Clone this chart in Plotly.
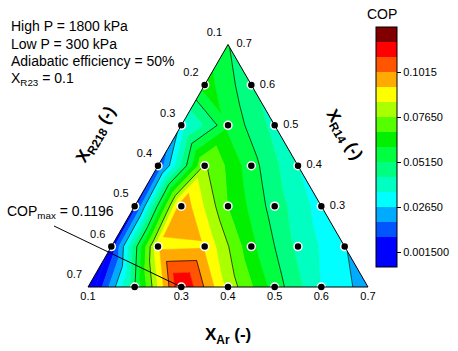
import math
import plotly.graph_objects as go

# ---------------- data (X_R23 fixed at 0.1) ----------------
x_ar = [0.1, 0.2, 0.3, 0.4, 0.5, 0.6, 0.7,
        0.1, 0.2, 0.3, 0.4, 0.5, 0.6,
        0.1, 0.2, 0.3, 0.4, 0.5,
        0.1, 0.2, 0.3, 0.4,
        0.1, 0.2, 0.3,
        0.1, 0.2,
        0.1]
x_r14 = [0.1, 0.1, 0.1, 0.1, 0.1, 0.1, 0.1,
         0.2, 0.2, 0.2, 0.2, 0.2, 0.2,
         0.3, 0.3, 0.3, 0.3, 0.3,
         0.4, 0.4, 0.4, 0.4,
         0.5, 0.5, 0.5,
         0.6, 0.6,
         0.7]
x_r218 = [0.7, 0.6, 0.5, 0.4, 0.3, 0.2, 0.1,
          0.6, 0.5, 0.4, 0.3, 0.2, 0.1,
          0.5, 0.4, 0.3, 0.2, 0.1,
          0.4, 0.3, 0.2, 0.1,
          0.3, 0.2, 0.1,
          0.2, 0.1,
          0.1]
cop = [-0.008, 0.051, 0.1196, 0.082, 0.056, 0.0346, 0.0226,
       0.004, 0.091, 0.092, 0.062, 0.041, 0.027,
       0.006, 0.100, 0.068, 0.0476, 0.031,
       0.010, 0.078, 0.055, 0.035,
       0.030, 0.058, 0.040,
       0.064, 0.045,
       0.052]

axis_ticks = [0.1, 0.2, 0.3, 0.4, 0.5, 0.6, 0.7]
minor_ticks = [0.15, 0.25, 0.35, 0.45, 0.55, 0.65]
cb_tickvals = [0.0015, 0.0265, 0.0515, 0.0765, 0.1015]
cb_ticktext = ["0.001500", "0.02650", "0.05150", "0.07650", "0.1015"]
level_step = 0.025 / 3
cb_min = 0.0015 - level_step
band_colors = ["#0000FF", "#0000FF", "#0055FF", "#00AAFF", "#00FFFF", "#00FFC0",
               "#00FF80", "#00FF40", "#00F000", "#55FF00", "#AAFF00", "#FFFF00",
               "#FFAA00", "#FF5500", "#FF0000", "#800000"]
line_levels = [0.0265, 0.0515, 0.0765, 0.1015]
cop_max_label = "COP<sub>max</sub> = 0.1196"

W, H = 458, 351
FONT = "Liberation Sans, Arial, sans-serif"

# ------------- triangulation of the composition grid -------------
node = {}
for n in range(len(cop)):
    node[(round(x_ar[n] * 10), round(x_r14[n] * 10))] = n
tris = []
for (ia, ik), n in node.items():
    if (ia + 1, ik) in node and (ia, ik + 1) in node:
        tris.append((n, node[(ia + 1, ik)], node[(ia, ik + 1)]))
    if (ia + 1, ik) in node and (ia, ik + 1) in node and (ia + 1, ik + 1) in node:
        tris.append((node[(ia + 1, ik)], node[(ia, ik + 1)], node[(ia + 1, ik + 1)]))


def clip(pts, vals, lev, above):
    op, ov = [], []
    m = len(pts)
    for q in range(m):
        p1, v1 = pts[q], vals[q]
        p2, v2 = pts[(q + 1) % m], vals[(q + 1) % m]
        in1 = v1 >= lev if above else v1 <= lev
        in2 = v2 >= lev if above else v2 <= lev
        if in1:
            op.append(p1)
            ov.append(v1)
        if in1 != in2:
            t = (lev - v1) / (v2 - v1)
            op.append((p1[0] + t * (p2[0] - p1[0]), p1[1] + t * (p2[1] - p1[1])))
            ov.append(lev)
    return op, ov


fig = go.Figure()

nb = len(band_colors)
for m in range(nb):
    lo = cb_min + m * level_step
    hi = lo + level_step
    A, B, C = [], [], []
    for t in tris:
        pts = [(x_ar[n], x_r14[n]) for n in t]
        vals = [cop[n] for n in t]
        if m > 0:
            pts, vals = clip(pts, vals, lo, True)
        if len(pts) >= 3 and m < nb - 1:
            pts, vals = clip(pts, vals, hi, False)
        if len(pts) >= 3:
            for (ar, r14) in pts + [pts[0]]:
                A.append(r14); B.append(0.9 - ar - r14); C.append(ar)
            A.append(None); B.append(None); C.append(None)
    if A:
        fig.add_trace(go.Scatterternary(
            a=A, b=B, c=C, mode="lines", fill="toself", fillcolor=band_colors[m],
            line=dict(color=band_colors[m], width=0.6), hoverinfo="skip", showlegend=False))

# contour lines
A, B, C = [], [], []
for L in line_levels:
    for t in tris:
        seg = []
        for e in range(3):
            n1, n2 = t[e], t[(e + 1) % 3]
            v1, v2 = cop[n1], cop[n2]
            if (v1 - L) * (v2 - L) < 0:
                f = (L - v1) / (v2 - v1)
                ar = x_ar[n1] + f * (x_ar[n2] - x_ar[n1])
                r14 = x_r14[n1] + f * (x_r14[n2] - x_r14[n1])
                seg.append((ar, r14))
        if len(seg) == 2:
            for (ar, r14) in seg:
                A.append(r14); B.append(0.9 - ar - r14); C.append(ar)
            A.append(None); B.append(None); C.append(None)
fig.add_trace(go.Scatterternary(a=A, b=B, c=C, mode="lines",
                                line=dict(color="black", width=0.7),
                                hoverinfo="skip", showlegend=False))

# tick marks (Origin style, along the grid directions)
px_per_unit = 280 / 0.6
A, B, C = [], [], []
for vals_, ln in ((axis_ticks, 5), (minor_ticks, 3)):
    d = ln / px_per_unit
    for v in vals_:
        # left edge: X_R218
        for (ar, r218) in ((0.1, v), (0.1 - d, v)):
            A.append(0.9 - ar - r218); B.append(r218); C.append(ar)
        A.append(None); B.append(None); C.append(None)
        # bottom edge: X_Ar
        for (ar, r14) in ((v, 0.1), (v, 0.1 - d)):
            A.append(r14); B.append(0.9 - ar - r14); C.append(ar)
        A.append(None); B.append(None); C.append(None)
        # right edge: X_R14
        for (r14, r218) in ((v, 0.1), (v, 0.1 - d)):
            A.append(r14); B.append(r218); C.append(0.9 - r14 - r218)
        A.append(None); B.append(None); C.append(None)
fig.add_trace(go.Scatterternary(a=A, b=B, c=C, mode="lines", cliponaxis=False,
                                line=dict(color="black", width=1),
                                hoverinfo="skip", showlegend=False))

# data points
shown = [n for n in range(len(cop)) if max(x_ar[n], x_r14[n], x_r218[n]) < 0.65]
fig.add_trace(go.Scatterternary(
    a=[x_r14[n] for n in shown], b=[x_r218[n] for n in shown], c=[x_ar[n] for n in shown],
    mode="markers", cliponaxis=False,
    marker=dict(size=8, color="black", line=dict(color="white", width=1.5)),
    hoverinfo="skip", showlegend=False))

# tick labels
lab = [f"{v:.1f}" for v in axis_ticks]
tf = dict(family=FONT, size=11, color="black")
fig.add_trace(go.Scatterternary(
    a=[0.8 - v for v in axis_ticks], b=axis_ticks, c=[0.1] * 7, text=lab,
    mode="markers+text", textposition="top left", cliponaxis=False,
    marker=dict(size=8, color="rgba(0,0,0,0)"), textfont=tf,
    hoverinfo="skip", showlegend=False))
fig.add_trace(go.Scatterternary(
    a=[0.1] * 7, b=[0.8 - v for v in axis_ticks], c=axis_ticks, text=lab,
    mode="markers+text", textposition="bottom center", cliponaxis=False,
    marker=dict(size=6, color="rgba(0,0,0,0)"), textfont=tf,
    hoverinfo="skip", showlegend=False))
fig.add_trace(go.Scatterternary(
    a=axis_ticks, b=[0.1] * 7, c=[0.8 - v for v in axis_ticks], text=lab,
    mode="markers+text", textposition="middle right", cliponaxis=False,
    marker=dict(size=12, color="rgba(0,0,0,0)"), textfont=tf,
    hoverinfo="skip", showlegend=False))

# colour bar (dummy trace)
cs = []
for m, col in enumerate(band_colors):
    cs.append([m / nb, col])
    cs.append([(m + 1) / nb, col])
cb_max = cb_min + nb * level_step
fig.add_trace(go.Scatterternary(
    a=[0.3], b=[0.3], c=[0.3], mode="markers",
    marker=dict(size=1, opacity=0, color=[0.05], colorscale=cs, cmin=cb_min, cmax=cb_max,
                showscale=True,
                colorbar=dict(x=376 / W, xanchor="left", xpad=0, ypad=0,
                              y=1 - 147 / H, yanchor="middle", len=240 / H, lenmode="fraction",
                              thickness=21, thicknessmode="pixels",
                              outlinewidth=1, outlinecolor="black",
                              tickvals=cb_tickvals, ticktext=cb_ticktext,
                              ticks="outside", ticklen=4, tickcolor="black",
                              tickfont=dict(family=FONT, size=11, color="black"))),
    hoverinfo="skip", showlegend=False))

# ---------------- layout ----------------
tri_l, tri_r, tri_b = 88, 368, 287
tri_t = tri_b - (tri_r - tri_l) * math.sqrt(3) / 2


def to_px(ar, r14):
    x = tri_l + (tri_r - tri_l) * ((ar - 0.1) + (r14 - 0.1) / 2) / 0.6
    y = tri_b - (tri_b - tri_t) * (r14 - 0.1) / 0.6
    return x, y


ax_common = dict(min=0.1, showgrid=False, showticklabels=False, ticks="",
                 showline=True, linecolor="black", linewidth=1, title=dict(text=""))
fig.update_layout(
    width=W, height=H, margin=dict(l=0, r=0, t=0, b=0),
    paper_bgcolor="white", plot_bgcolor="white",
    font=dict(family=FONT, color="black"),
    ternary=dict(sum=0.9, bgcolor="white",
                 domain=dict(x=[tri_l / W, tri_r / W], y=[1 - tri_b / H, 1 - tri_t / H]),
                 aaxis=ax_common, baxis=ax_common, caxis=ax_common),
)


def label(text, x, y, size=14, angle=0, xanchor="center"):
    return dict(text=text, x=x / W, y=1 - y / H, xref="paper", yref="paper",
                xanchor=xanchor, yanchor="middle", showarrow=False, textangle=angle,
                font=dict(family=FONT, size=size, color="black"))


ann = []
info = ["High P = 1800 kPa", "Low P = 300 kPa", "Adiabatic efficiency = 50%", "X<sub>R23</sub> = 0.1"]
for q, s in enumerate(info):
    ann.append(label(s, 9, 26 + q * 17.5, xanchor="left"))
ann.append(label("COP", 382, 14))
ann.append(label("<b>X<sub>R218</sub> (-)</b>", 97, 135, size=17, angle=-60))
ann.append(label("<b>X<sub>R14</sub> (-)</b>", 343, 135, size=17, angle=60))
ann.append(label("<b>X<sub>Ar</sub> (-)</b>", 228, 336, size=17))
ann.append(label(cop_max_label, 60, 212))
fig.update_layout(annotations=ann)

# pointer from the COPmax label to the maximum point
imax = max(range(len(cop)), key=lambda n: cop[n])
hx, hy = to_px(x_ar[imax], x_r14[imax])
fig.add_shape(type="line", xref="paper", yref="paper",
              x0=54 / W, y0=1 - 226 / H, x1=hx / W, y1=1 - hy / H,
              line=dict(color="black", width=1))

fig.write_html("out.html")
